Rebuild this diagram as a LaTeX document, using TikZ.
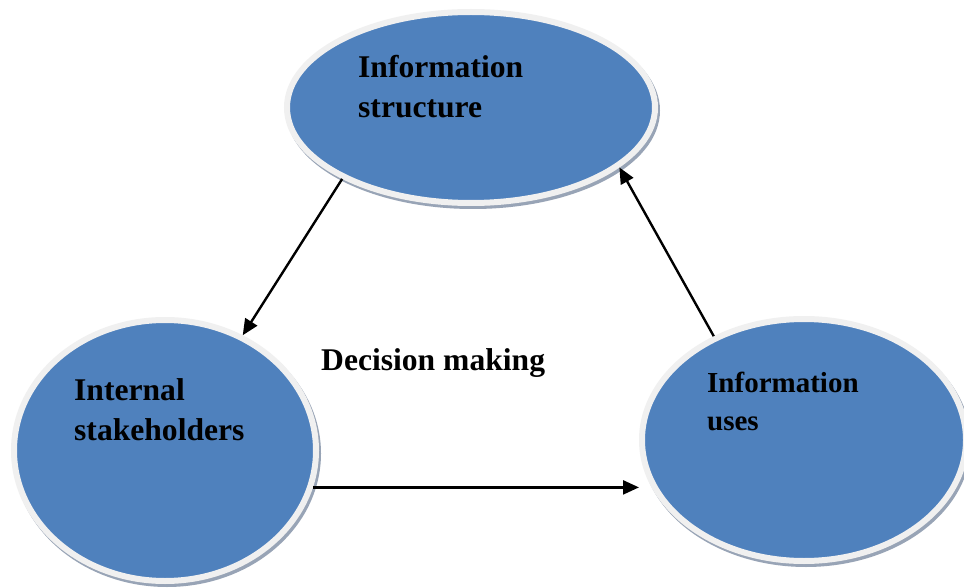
\documentclass[tikz,border=0pt]{standalone}
\usepackage{fontspec}
\setmainfont{Liberation Serif}
\usetikzlibrary{shapes.geometric,arrows.meta}
\definecolor{bub}{HTML}{4F81BD}
\definecolor{ringc}{HTML}{F0F0F0}
\definecolor{shad}{HTML}{98A4B6}
\begin{document}
\begin{tikzpicture}[x=1pt,y=-1pt,
  bubble/.style={ellipse, fill=bub, draw=ringc, line width=6pt, inner sep=0pt,
    preaction={draw=shad, fill=shad, line width=6pt, transform canvas={xshift=2pt,yshift=-3pt}}},
  lbl/.style={anchor=base west, inner sep=0pt, align=left, font=\bfseries\fontsize{31.6}{40}\selectfont},
  arr/.style={-{Triangle[length=16pt,width=14pt]}, line width=2.4pt}]
\useasboundingbox[fill=white] (0,0) rectangle (964,588);
\node[bubble, minimum width=368pt, minimum height=191pt] (top) at (471,107.5) {};
\node[bubble, minimum width=302pt, minimum height=261pt] (left) at (165,450.5) {};
\node[bubble, minimum width=324pt, minimum height=242pt] (right) at (804,440) {};
\node[lbl] (ttop) at (358,118) {Information\\structure};
\node[lbl] (tleft) at (74,440) {Internal\\stakeholders};
\node[lbl, font=\bfseries\fontsize{29}{38}\selectfont] (tright) at (707,430) {Information\\uses};
\node[lbl] (tmid) at (321,370) {Decision making};
\draw[arr] (top.209) -- (left.56);
\draw[arr] (left.-14) -- (left.-14 -| right.west);
\draw[arr] (right.131) -- (top.-22.5);
\end{tikzpicture}
\end{document}
